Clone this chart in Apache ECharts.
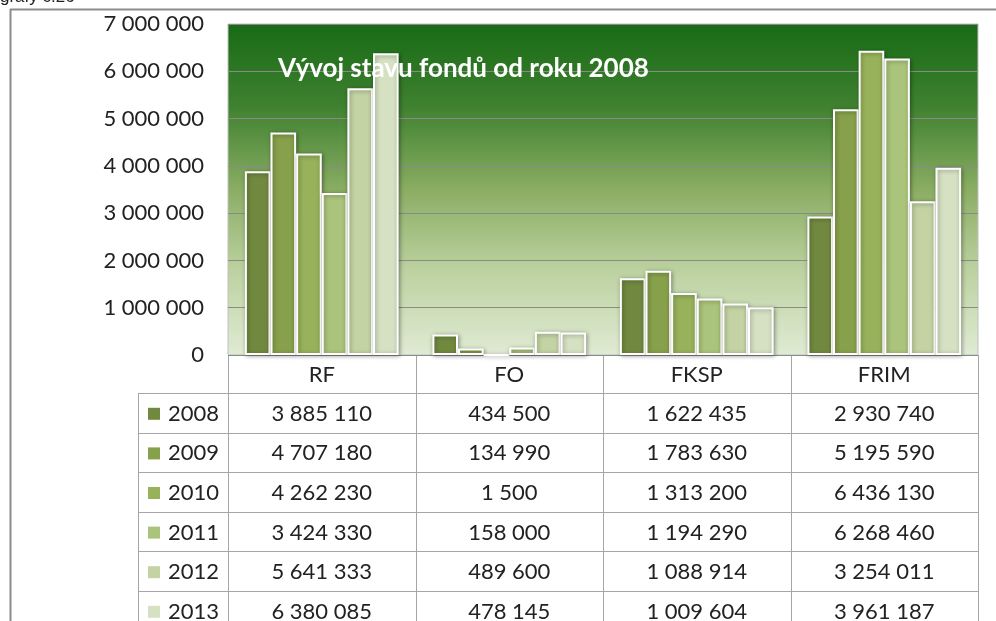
<!DOCTYPE html>
<html>
<head>
<meta charset="utf-8">
<script src="https://cdn.jsdelivr.net/npm/echarts@6/dist/echarts.min.js"></script>
<style>
  html, body { margin: 0; padding: 0; background: #fff; }
  #main { width: 996px; height: 621px; }
</style>
</head>
<body>
<div id="main"></div>
<script>
// data
const categories = ['RF', 'FO', 'FKSP', 'FRIM'];
const years = ['2008', '2009', '2010', '2011', '2012', '2013'];
const v2008 = [3885110, 434500, 1622435, 2930740];
const v2009 = [4707180, 134990, 1783630, 5195590];
const v2010 = [4262230, 1500, 1313200, 6436130];
const v2011 = [3424330, 158000, 1194290, 6268460];
const v2012 = [5641333, 489600, 1088914, 3254011];
const v2013 = [6380085, 478145, 1009604, 3961187];
const values = [v2008, v2009, v2010, v2011, v2012, v2013];
const yTicks = [0, 1000000, 2000000, 3000000, 4000000, 5000000, 6000000, 7000000];

const colors = ['#71893f', '#87a04b', '#97b25a', '#abc47b', '#c3d3a3', '#d6e1c3'];
const FONT = 'Lato, "Open Sans", sans-serif';

function fmt(n) {
    return String(n).replace(/\B(?=(\d{3})+(?!\d))/g, ' ');
}

// plot area
const gl = 228, gt = 24, gw = 750, gh = 331;
const tableTop = gt + gh;
const headH = 38;
const rowH = 39.6;
const legLeft = 138;
const colW = gw / categories.length;
const lineColor = '#a6a6a6';

const chart = echarts.init(document.getElementById('main'));

// table graphics
const graphics = [];
graphics.push({
    type: 'text', left: 0, top: -11,
    style: { text: 'grafy č.26', font: '17px Arial, sans-serif', fill: '#222' }
});
graphics.push({
    type: 'line', shape: { x1: 10, y1: 9.5, x2: 996, y2: 9.5 },
    style: { stroke: '#8c8c8c', lineWidth: 2 }
});
graphics.push({
    type: 'line', shape: { x1: 10.5, y1: 9, x2: 10.5, y2: 621 },
    style: { stroke: '#8c8c8c', lineWidth: 2 }
});
// title
graphics.push({
    type: 'text', x: 278, y: 56, z: 100,
    style: { text: 'Vývoj stavu fondů od roku 2008', font: 'bold 26px ' + FONT, fill: '#fff' }
});
// header row
for (let i = 0; i <= categories.length; i++) {
    const x = Math.round(gl + i * colW) + 0.5;
    graphics.push({
        type: 'line', shape: { x1: x, y1: tableTop, x2: x, y2: 621 },
        style: { stroke: lineColor, lineWidth: 1 }
    });
}
graphics.push({
    type: 'line', shape: { x1: legLeft + 0.5, y1: tableTop + headH, x2: legLeft + 0.5, y2: 621 },
    style: { stroke: lineColor, lineWidth: 1 }
});
categories.forEach(function (c, i) {
    graphics.push({
        type: 'text', x: gl + (i + 0.5) * colW, y: tableTop + headH / 2 + 1,
        style: { text: c, font: '22px ' + FONT, fill: '#222', align: 'center', verticalAlign: 'middle' }
    });
});
for (let r = 0; r <= years.length; r++) {
    const y = Math.round(tableTop + headH + r * rowH) + 0.5;
    graphics.push({
        type: 'line', shape: { x1: legLeft, y1: y, x2: gl + gw, y2: y },
        style: { stroke: lineColor, lineWidth: 1 }
    });
}
years.forEach(function (yr, r) {
    const cy = tableTop + headH + (r + 0.5) * rowH + 1;
    graphics.push({
        type: 'rect', shape: { x: 148, y: cy - 6, width: 12, height: 12 },
        style: { fill: colors[r] }
    });
    graphics.push({
        type: 'text', x: 168, y: cy,
        style: { text: yr, font: '22px ' + FONT, fill: '#222', verticalAlign: 'middle' }
    });
    values[r].forEach(function (v, i) {
        graphics.push({
            type: 'text', x: gl + (i + 0.5) * colW, y: cy,
            style: { text: fmt(v), font: '22px ' + FONT, fill: '#222', align: 'center', verticalAlign: 'middle' }
        });
    });
});

const series = years.map(function (yr, r) {
    return {
        name: yr,
        type: 'bar',
        data: values[r],
        barGap: '0%',
        barCategoryGap: '18%',
        itemStyle: {
            color: colors[r],
            borderColor: '#ffffff',
            borderWidth: 2,
            shadowBlur: 4,
            shadowColor: 'rgba(0,0,0,0.35)',
            shadowOffsetX: 1,
            shadowOffsetY: 1
        }
    };
});

chart.setOption({
    backgroundColor: '#fff',
    animation: false,
    grid: {
        left: gl, top: gt, width: gw, height: gh,
        show: true,
        borderColor: '#c0c0c0',
        borderWidth: 1,
        backgroundColor: new echarts.graphic.LinearGradient(0, 0, 0, 1, [
            { offset: 0, color: '#176a15' },
            { offset: 0.25, color: '#3f8130' },
            { offset: 0.5, color: '#8aad63' },
            { offset: 0.75, color: '#bdd2a1' },
            { offset: 1, color: '#e0ebd4' }
        ])
    },
    xAxis: {
        type: 'category',
        data: categories,
        axisLine: { show: false },
        axisTick: { show: false },
        axisLabel: { show: false }
    },
    yAxis: {
        type: 'value',
        min: yTicks[0],
        max: yTicks[yTicks.length - 1],
        interval: 1000000,
        axisLine: { show: false },
        axisTick: { show: false },
        axisLabel: {
            fontFamily: FONT, fontSize: 22, color: '#222', margin: 24,
            formatter: function (v) { return fmt(v); }
        },
        splitLine: { lineStyle: { color: '#8a8a8a', width: 1 } }
    },
    series: series,
    graphic: graphics
});
</script>
</body>
</html>
